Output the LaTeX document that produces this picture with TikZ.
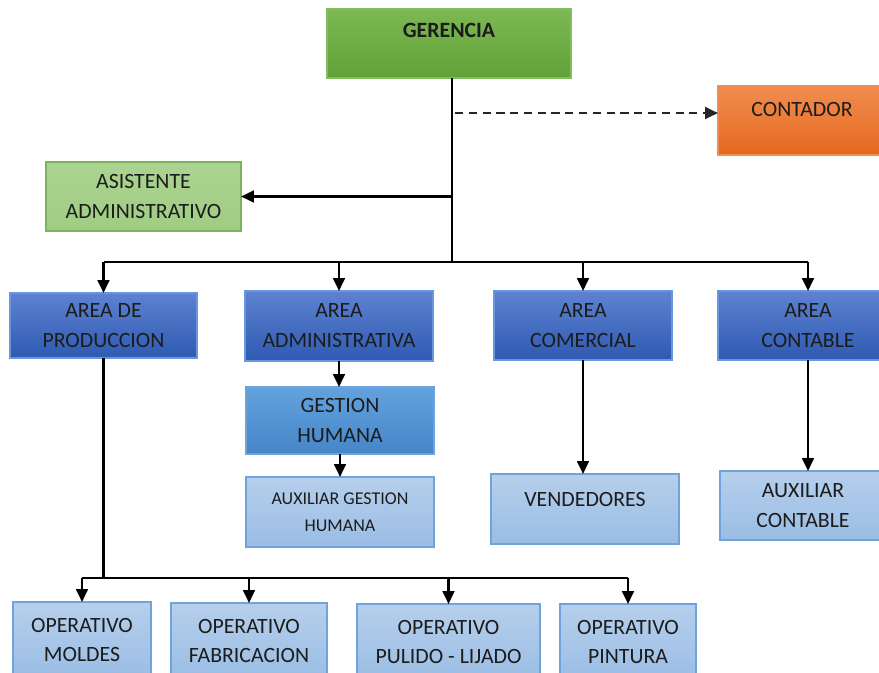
\documentclass[tikz,border=0pt]{standalone}
\usepackage{fontspec}
\setmainfont{Carlito}
\usepackage{xcolor}
\definecolor{gertop}{RGB}{124, 185, 82}
\definecolor{gerbot}{RGB}{98, 160, 56}
\definecolor{gerline}{RGB}{130, 190, 95}
\definecolor{contop}{RGB}{241, 141, 80}
\definecolor{conbot}{RGB}{228, 104, 30}
\definecolor{asistop}{RGB}{172, 211, 146}
\definecolor{asisbot}{RGB}{160, 204, 130}
\definecolor{asisline}{RGB}{125, 180, 88}
\definecolor{darktop}{RGB}{94, 130, 208}
\definecolor{darkbot}{RGB}{46, 90, 178}
\definecolor{darkline}{RGB}{105, 150, 222}
\definecolor{midtop}{RGB}{100, 162, 222}
\definecolor{midbot}{RGB}{70, 134, 200}
\definecolor{lighttop}{RGB}{182, 207, 236}
\definecolor{lightbot}{RGB}{154, 189, 228}
\definecolor{lightline}{RGB}{112, 162, 222}
\definecolor{txtdark}{RGB}{28, 28, 28}
\usetikzlibrary{arrows.meta,positioning,calc}
\newcommand{\boxfont}{\fontsize{15.5}{21.3}\selectfont}
\newcommand{\smallboxfont}{\fontsize{12.8}{19}\selectfont}

\begin{document}
\begin{tikzpicture}[
  x=0.025cm, y=-0.025cm,
  box/.style={draw, line width=0.9pt, outer sep=0pt, inner sep=0pt, align=center, font=\boxfont, text=txtdark},
  size/.style 2 args={minimum width=#1*0.025cm, minimum height=#2*0.025cm},
  gerbox/.style={box, top color=gertop, bottom color=gerbot, draw=gerline},
  conbox/.style={box, top color=contop, bottom color=conbot, draw=contop},
  asisbox/.style={box, top color=asistop, bottom color=asisbot, draw=asisline},
  areabox/.style={box, top color=darktop, bottom color=darkbot, draw=darkline},
  midbox/.style={box, top color=midtop, bottom color=midbot, draw=lightline},
  lightbox/.style={box, top color=lighttop, bottom color=lightbot, draw=lightline},
  line/.style={line width=1.9pt, color=black},
  arrow/.style={-{Triangle[length=3.2mm, width=2.9mm]}, line width=1.9pt, color=black},
  dasharrow/.style={-{Triangle[length=3.2mm, width=2.9mm]}, line width=1.9pt, color=black!85, dash pattern=on 5.8pt off 4pt}
]
\useasboundingbox (0,0) rectangle (879,672);
\clip (0,0) rectangle (879,672);

% top level
\node[gerbox, size={244}{69}, font=\boxfont\bfseries, text depth=19pt] (ger) at (449,43.5) {GERENCIA};
\node[conbox, size={168}{69}, text depth=16pt] (con) at (802,120.5) {CONTADOR};
\node[asisbox, size={195}{69}] (asis) at (143.5,196.5) {ASISTENTE\\ADMINISTRATIVO};

% areas
\node[areabox, size={187}{65}] (prod) at (103.5,325.5) {AREA DE\\PRODUCCION};
\node[areabox, size={188}{70}] (adm) at (339,326) {AREA\\ADMINISTRATIVA};
\node[areabox, size={178}{69}] (com) at (583,325.5) {AREA\\COMERCIAL};
\node[areabox, size={180}{69}] (cont) at (808,325.5) {AREA\\CONTABLE};

% second level
\node[midbox, size={188}{67}] (gh) at (340,420.5) {GESTION\\HUMANA};
\node[lightbox, size={188}{70}, font=\smallboxfont] (agh) at (340,512) {AUXILIAR GESTION\\HUMANA};
\node[lightbox, size={188}{70}, text depth=13pt] (ven) at (585,509) {VENDEDORES};
\node[lightbox, size={166}{69}] (auxc) at (803,505.5) {AUXILIAR\\CONTABLE};

% operativos
\node[lightbox, size={138}{76}] (om) at (82,640) {OPERATIVO\\MOLDES};
\node[lightbox, size={156}{76}] (of) at (249,641) {OPERATIVO\\FABRICACION};
\node[lightbox, size={183}{76}] (opl) at (448.5,642) {OPERATIVO\\PULIDO - LIJADO};
\node[lightbox, size={136}{76}] (opi) at (628,642) {OPERATIVO\\PINTURA};

\coordinate (j1) at (452,262);
\coordinate (j2) at (100,578);
\coordinate (dash) at (455,113);

% connectors
\draw[line] (ger.south -| j1) -- (j1);
\draw[dasharrow] (dash) -- (dash -| con.west);
\draw[arrow] (j1 |- asis.east) -- (asis.east);
\draw[line] (prod.north |- j1) -- (cont.north |- j1);
\foreach \n in {prod,adm,com,cont}
  \draw[arrow] (\n.north |- j1) -- (\n.north);
\draw[arrow] (adm.south) -- (adm.south |- gh.north);
\draw[arrow] (gh.south) -- (agh.north);
\draw[arrow] (com.south) -- (com.south |- ven.north);
\draw[arrow] (cont.south) -- (cont.south |- auxc.north);
\draw[line] (prod.south) -- (prod.south |- j2);
\draw[line] (om.north |- j2) -- (opi.north |- j2);
\foreach \n in {om,of,opl,opi}
  \draw[arrow] (\n.north |- j2) -- (\n.north);
\end{tikzpicture}
\end{document}
